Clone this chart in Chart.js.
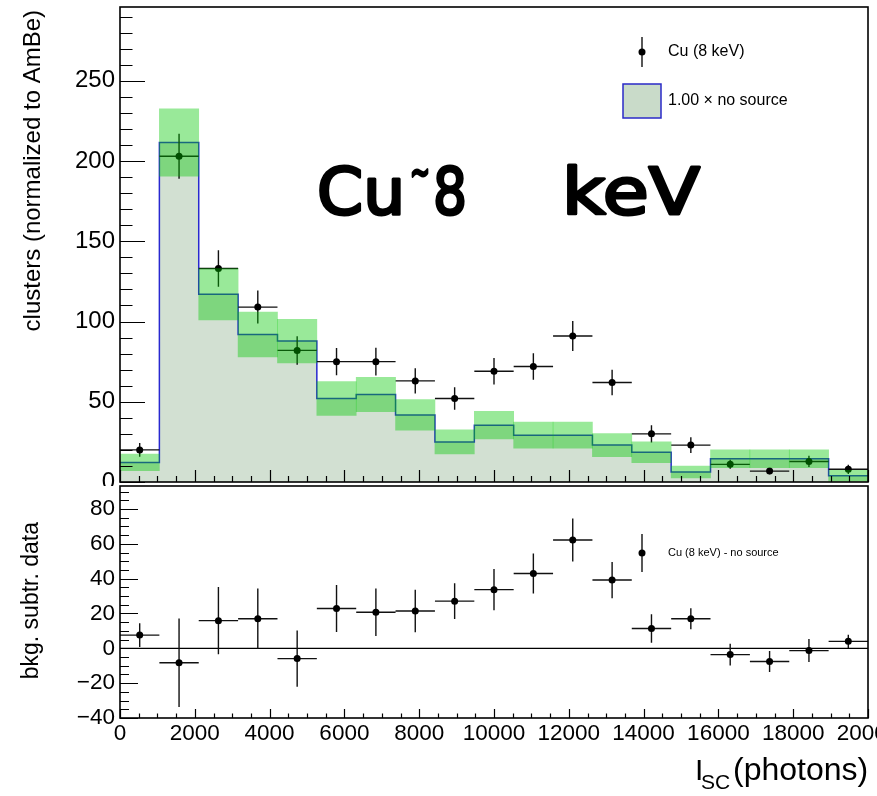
<!DOCTYPE html>
<html>
<head>
<meta charset="utf-8">
<title>Cu 8 keV vs no source</title>
<script src="https://cdn.jsdelivr.net/npm/chart.js@4.4.0/dist/chart.umd.min.js"></script>
<style>
  html, body { margin: 0; padding: 0; background: #fff; }
  #wrap { position: relative; width: 877px; height: 796px; overflow: hidden; }
  #topPad { position: absolute; left: 0; top: 0; }
  #bottomPad { position: absolute; left: 0; top: 482px; }
</style>
</head>
<body>
<div id="wrap">
  <canvas id="topPad" width="877" height="486"></canvas>
  <canvas id="bottomPad" width="877" height="314"></canvas>
</div>
<script>
// --- values ---
const binEdges = [0, 1053, 2105, 3158, 4211, 5263, 6316, 7368, 8421, 9474, 10526,
  11579, 12632, 13684, 14737, 15789, 16842, 17895, 18947, 20000];

// background ("no source") histogram and its uncertainty band
const noSource = [12.2, 211.6, 117, 91.9, 87.8, 52, 54.5, 41.8, 25, 35.4,
  29.2, 29.2, 23, 18.6, 6.2, 14.5, 14.5, 14.5, 3.9];
const noSourceErr = [5.2, 21, 16, 14, 13.6, 10.5, 10.7, 9.5, 7.5, 8.6,
  8.1, 8.1, 7.2, 6.5, 3.7, 5.6, 5.6, 5.6, 3.4];

// Cu (8 keV) data points
const cuData = [20, 203, 133, 109, 82, 75, 75, 63, 52, 69,
  72, 91, 62, 30, 23, 11, 6.8, 12.8, 7.9];
const cuErr = [4.3, 14, 11.4, 10.3, 8.9, 8.5, 8.6, 7.9, 7, 8.3,
  8.3, 9.3, 7.9, 5.4, 4.9, 2.8, 1.9, 3.5, 2.9];

// background subtracted data (lower pad)
const subtracted = [7.6, -8.3, 15.9, 17.0, -5.9, 22.9, 20.7, 21.4, 27.1, 33.7,
  43, 62.2, 39.2, 11.4, 17, -3.6, -7.6, -1.3, 4.0];
const subtractedErr = [6.8, 25.4, 19.3, 17.3, 16.2, 13.5, 13.6, 12.2, 10.2, 11.9,
  11.5, 12.4, 10.4, 8.2, 6, 6.3, 6, 6.6, 3.8];

const xTicks = [0, 2000, 4000, 6000, 8000, 10000, 12000, 14000, 16000, 18000, 20000];
const yTicksTop = [0, 50, 100, 150, 200, 250];
const yTicksBottom = [-40, -20, 0, 20, 40, 60, 80];

// --- helpers ---
const FONT = '"Liberation Sans", Arial, Helvetica, sans-serif';
Chart.defaults.font.family = FONT;
Chart.defaults.color = "#000";

const binCenters = binEdges.slice(0, -1).map((e, i) => (e + binEdges[i + 1]) / 2);

// crosses (x = bin width, y = +-err) as one line dataset broken by nulls
function errorBarPoints(values, errs) {
  const pts = [];
  values.forEach((v, i) => {
    const c = binCenters[i];
    pts.push({ x: binEdges[i], y: v }, { x: binEdges[i + 1], y: v }, { x: c, y: null });
    pts.push({ x: c, y: v - errs[i] }, { x: c, y: v + errs[i] }, { x: c, y: null });
  });
  return pts;
}

function markerPoints(values) {
  return values.map((v, i) => ({ x: binCenters[i], y: v }));
}

function niceLabel(v) {
  return String(v).replace("-", "\u2212");
}

// ticks drawn inside the frame, ROOT style, plus the frame itself
const padFrame = {
  id: "padFrame",
  afterDatasetsDraw(chart, args, o) {
    const { ctx, chartArea: a } = chart;
    const x = chart.scales.x, y = chart.scales.y;
    ctx.save();
    ctx.strokeStyle = "#000";
    ctx.lineWidth = 1.2;
    ctx.beginPath();
    for (let v = x.min; v <= x.max; v += o.xMinor) {
      const px = Math.round(x.getPixelForValue(v)) + 0.5;
      const len = xTicks.includes(v) ? o.xLen : o.xLen / 2;
      ctx.moveTo(px, a.bottom);
      ctx.lineTo(px, a.bottom - len);
    }
    for (let v = o.yStart; v <= y.max; v += o.yMinor) {
      const py = Math.round(y.getPixelForValue(v)) + 0.5;
      const len = o.yMajor.includes(v) ? o.yLen : o.yLen / 2;
      ctx.moveTo(a.left, py);
      ctx.lineTo(a.left + len, py);
    }
    ctx.stroke();
    ctx.lineWidth = 1.6;
    ctx.strokeRect(a.left, a.top, a.right - a.left, a.bottom - a.top);
    ctx.restore();
  }
};

// squeeze a word into the width it takes in the picture
function fitText(ctx, text, x, y, w, size) {
  ctx.font = size + 'px "DejaVu Sans"';
  const m = ctx.measureText(text).width;
  ctx.save();
  ctx.translate(x, y);
  ctx.scale(w / m, 1);
  ctx.fillText(text, 0, 0);
  ctx.strokeText(text, 0, 0);
  ctx.restore();
}

const topExtras = {
  id: "topExtras",
  afterDraw(chart) {
    const ctx = chart.ctx;
    ctx.save();
    // y title
    ctx.fillStyle = "#000";
    ctx.font = "24px " + FONT;
    ctx.translate(33, 10);
    ctx.rotate(-Math.PI / 2);
    ctx.textAlign = "right";
    ctx.textBaseline = "middle";
    ctx.fillText("clusters (normalized to AmBe)", 0, 0);
    ctx.restore();

    // legend
    ctx.save();
    ctx.strokeStyle = "#111";
    ctx.lineWidth = 1.4;
    ctx.beginPath();
    ctx.moveTo(642, 37);
    ctx.lineTo(642, 67);
    ctx.stroke();
    ctx.beginPath();
    ctx.arc(642, 52, 3.5, 0, Math.PI * 2);
    ctx.fillStyle = "#000";
    ctx.fill();
    ctx.fillStyle = "#c9dbc9";
    ctx.fillRect(623, 84, 38, 34);
    ctx.strokeStyle = "#2a2ac8";
    ctx.lineWidth = 1.5;
    ctx.strokeRect(623, 84, 38, 34);
    ctx.fillStyle = "#000";
    ctx.font = "16px " + FONT;
    ctx.textBaseline = "middle";
    ctx.fillText("Cu (8 keV)", 668, 52);
    ctx.fillText("1.00 \u00d7 no source", 668, 101);

    // handwritten note
    ctx.fillStyle = "#000";
    ctx.strokeStyle = "#000";
    ctx.lineWidth = 3;
    ctx.lineJoin = "round";
    ctx.textBaseline = "alphabetic";
    fitText(ctx, "Cu", 317, 214, 88, 64);
    fitText(ctx, "~", 410, 186, 20, 40);
    fitText(ctx, "8", 433, 214, 34, 64);
    fitText(ctx, "keV", 562, 214, 138, 64);
    ctx.restore();
  }
};

const bottomExtras = {
  id: "bottomExtras",
  afterDraw(chart) {
    const ctx = chart.ctx;
    ctx.save();
    ctx.fillStyle = "#000";
    ctx.font = "23px " + FONT;
    ctx.translate(32, 40);
    ctx.rotate(-Math.PI / 2);
    ctx.textAlign = "right";
    ctx.textBaseline = "middle";
    ctx.fillText("bkg. subtr. data", 0, 0);
    ctx.restore();

    // x title with subscript
    ctx.save();
    ctx.fillStyle = "#000";
    ctx.textBaseline = "alphabetic";
    ctx.font = "30px " + FONT;
    ctx.fillText("I", 695, 298);
    ctx.font = "21px " + FONT;
    ctx.fillText("SC", 701, 307);
    ctx.font = "32px " + FONT;
    ctx.fillText("(photons)", 733, 298);

    // legend
    ctx.strokeStyle = "#111";
    ctx.lineWidth = 1.4;
    ctx.beginPath();
    ctx.moveTo(642, 52);
    ctx.lineTo(642, 90);
    ctx.stroke();
    ctx.beginPath();
    ctx.arc(642, 71, 3.5, 0, Math.PI * 2);
    ctx.fill();
    ctx.font = "11px " + FONT;
    ctx.textBaseline = "middle";
    ctx.fillText("Cu (8 keV) - no source", 668, 71);
    ctx.restore();
  }
};

const commonX = {
  type: "linear",
  min: 0,
  max: 20000,
  offset: false,
  afterBuildTicks: (s) => { s.ticks = xTicks.map((v) => ({ value: v })); },
  grid: { display: false, drawTicks: false },
  border: { display: false }
};

// --- upper pad ---
new Chart(document.getElementById("topPad"), {
  type: "line",
  data: {
    datasets: [
      {
        type: "bar",
        label: "no source uncertainty",
        data: binCenters.map((c, i) => ({ x: c, y: [noSource[i] - noSourceErr[i], noSource[i] + noSourceErr[i]] })),
        backgroundColor: "rgba(0, 200, 0, 0.4)",
        borderWidth: 0,
        barPercentage: 1,
        categoryPercentage: 1,
        grouped: false,
        order: 0
      },
      {
        label: "Cu (8 keV)",
        data: markerPoints(cuData),
        showLine: false,
        pointRadius: 3.5,
        pointBackgroundColor: "#000",
        pointBorderWidth: 0,
        order: 1
      },
      {
        label: "Cu errors",
        data: errorBarPoints(cuData, cuErr),
        borderColor: "#111",
        borderWidth: 1.4,
        pointRadius: 0,
        spanGaps: false,
        order: 2
      },
      {
        label: "1.00 x no source",
        data: binEdges.map((e, i) => ({ x: e, y: noSource[Math.min(i, noSource.length - 1)] })),
        stepped: "before",
        fill: "origin",
        backgroundColor: "#d2e0d2",
        borderColor: "#2828d0",
        borderWidth: 1.5,
        pointRadius: 0,
        order: 3
      }
    ]
  },
  options: {
    responsive: false,
    animation: false,
    events: [],
    layout: { padding: { top: 7, right: 9, left: 0, bottom: 2 } },
    plugins: {
      legend: { display: false },
      tooltip: { enabled: false },
      padFrame: { xMinor: 500, xLen: 12, yStart: 0, yMinor: 10, yLen: 25, yMajor: yTicksTop }
    },
    scales: {
      x: Object.assign({}, commonX, {
        display: false,
        afterFit: (s) => { s.height = 0; s.paddingLeft = 0; s.paddingRight = 0; }
      }),
      y: {
        min: 0,
        max: 296,
        afterBuildTicks: (s) => { s.ticks = yTicksTop.map((v) => ({ value: v })); },
        afterFit: (s) => { s.width = 120; s.paddingTop = 0; s.paddingBottom = 0; },
        grid: { display: false, drawTicks: false },
        border: { display: false },
        ticks: { padding: 5, font: { size: 24 }, callback: niceLabel }
      }
    }
  },
  plugins: [padFrame, topExtras]
});

// --- lower pad ---
new Chart(document.getElementById("bottomPad"), {
  type: "line",
  data: {
    datasets: [
      {
        label: "Cu (8 keV) - no source",
        data: markerPoints(subtracted),
        showLine: false,
        pointRadius: 3.5,
        pointBackgroundColor: "#000",
        pointBorderWidth: 0,
        order: 1
      },
      {
        label: "errors",
        data: errorBarPoints(subtracted, subtractedErr),
        borderColor: "#111",
        borderWidth: 1.4,
        pointRadius: 0,
        spanGaps: false,
        order: 2
      },
      {
        label: "zero",
        data: [{ x: xTicks[0], y: 0 }, { x: xTicks[xTicks.length - 1], y: 0 }],
        borderColor: "#000",
        borderWidth: 1.2,
        pointRadius: 0,
        order: 3
      }
    ]
  },
  options: {
    responsive: false,
    animation: false,
    events: [],
    layout: { padding: { top: 2, right: 9, left: 0, bottom: 0 } },
    plugins: {
      legend: { display: false },
      tooltip: { enabled: false },
      padFrame: { xMinor: 500, xLen: 9, yStart: -40, yMinor: 5, yLen: 18, yMajor: yTicksBottom }
    },
    scales: {
      x: Object.assign({}, commonX, {
        afterFit: (s) => { s.height = 78; s.paddingLeft = 0; s.paddingRight = 0; },
        ticks: { padding: 2, font: { size: 22.5 }, maxRotation: 0, autoSkip: false, callback: niceLabel }
      }),
      y: {
        min: -40,
        max: 93.2,
        afterBuildTicks: (s) => { s.ticks = yTicksBottom.map((v) => ({ value: v })); },
        afterFit: (s) => { s.width = 120; s.paddingTop = 0; s.paddingBottom = 0; },
        grid: { display: false, drawTicks: false },
        border: { display: false },
        ticks: { padding: 5, font: { size: 22.5 }, callback: niceLabel }
      }
    }
  },
  plugins: [padFrame, bottomExtras]
});
</script>
</body>
</html>
